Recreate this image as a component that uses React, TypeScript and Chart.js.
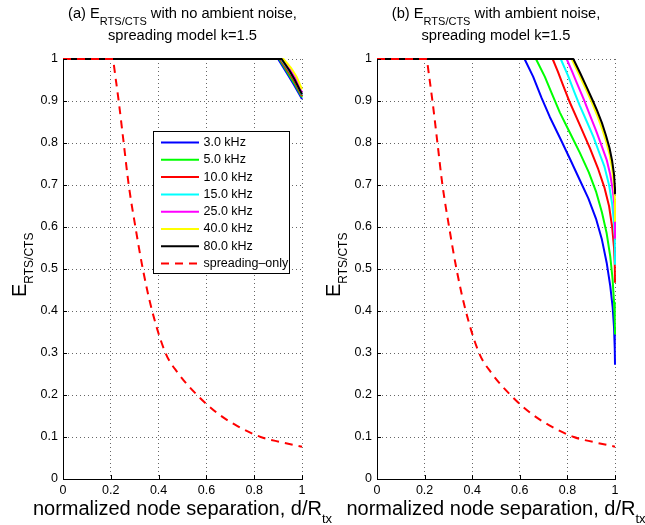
import React, { useEffect, useRef } from 'react';
import { Chart, registerables } from 'chart.js';

Chart.register(...registerables);

const FONT = '"Liberation Sans", Arial, Helvetica, sans-serif';

// ---------- tick labels ----------
const X_TICKS = [0, 0.2, 0.4, 0.6, 0.8, 1];
const Y_TICKS = [0, 0.1, 0.2, 0.3, 0.4, 0.5, 0.6, 0.7, 0.8, 0.9, 1];

// ---------- series names / colours ----------
const FREQ_LABELS = ['3.0 kHz', '5.0 kHz', '10.0 kHz', '15.0 kHz', '25.0 kHz', '40.0 kHz', '80.0 kHz'];
const SPREAD_LABEL = 'spreading\u2013only';
const FREQ_COLORS = ['#0000ff', '#00ff00', '#ff0000', '#00ffff', '#ff00ff', '#ffff00', '#000000'];
const SPREAD_COLOR = '#ff0000';

type Pt = [number, number];

// ---------- spreading-only curve (both panels) ----------
const SPREADING_ONLY: Pt[] = [
  [0, 1], [0.21, 1], [0.212, 0.99], [0.233, 0.9], [0.254, 0.8], [0.275, 0.7], [0.303, 0.6], [0.334, 0.5],
  [0.373, 0.4], [0.429, 0.3], [0.48, 0.253], [0.561, 0.2], [0.65, 0.155], [0.73, 0.126],
  [0.827, 0.1], [0.91, 0.088], [1, 0.077],
];

// ---------- panel (a): no ambient noise ----------
const A_3K: Pt[] = [[0, 1], [0.9, 1], [0.935, 0.968], [0.965, 0.94], [1, 0.905]];
const A_5K: Pt[] = [[0, 1], [0.905, 1], [0.94, 0.968], [0.968, 0.942], [1, 0.909]];
const A_10K: Pt[] = [[0, 1], [0.908, 1], [0.943, 0.97], [0.97, 0.945], [1, 0.912]];
const A_15K: Pt[] = [[0, 1], [0.912, 1], [0.946, 0.972], [0.972, 0.948], [1, 0.915]];
const A_25K: Pt[] = [[0, 1], [0.916, 1], [0.95, 0.975], [0.975, 0.952], [1, 0.92]];
const A_40K: Pt[] = [[0, 1], [0.922, 1], [0.955, 0.978], [0.978, 0.957], [1, 0.928]];
const A_80K: Pt[] = [[0, 1], [0.915, 1], [0.948, 0.972], [0.972, 0.948], [1, 0.916]];

// ---------- panel (b): with ambient noise ----------
const B_3K: Pt[] = [
  [0, 1], [0.62, 1], [0.656, 0.958], [0.691, 0.908], [0.726, 0.862], [0.768, 0.813], [0.81, 0.763],
  [0.852, 0.712], [0.888, 0.668], [0.92, 0.62], [0.945, 0.57], [0.965, 0.515], [0.98, 0.46],
  [0.99, 0.41], [0.996, 0.36], [0.999, 0.31], [1, 0.272],
];
const B_5K: Pt[] = [
  [0, 1], [0.668, 1], [0.705, 0.958], [0.733, 0.92], [0.768, 0.873], [0.81, 0.825], [0.852, 0.777],
  [0.89, 0.73], [0.92, 0.685], [0.945, 0.635], [0.965, 0.585], [0.98, 0.53], [0.99, 0.475],
  [0.996, 0.42], [0.999, 0.38], [1, 0.344],
];
const B_10K: Pt[] = [
  [0, 1], [0.738, 1], [0.76, 0.97], [0.782, 0.937], [0.81, 0.897], [0.852, 0.843], [0.895, 0.787],
  [0.93, 0.737], [0.955, 0.695], [0.975, 0.65], [0.988, 0.6], [0.996, 0.55], [0.999, 0.51], [1, 0.467],
];
const B_15K: Pt[] = [
  [0, 1], [0.772, 1], [0.803, 0.96], [0.83, 0.92], [0.852, 0.889], [0.88, 0.853], [0.909, 0.815],
  [0.935, 0.775], [0.955, 0.745], [0.975, 0.7], [0.988, 0.655], [0.996, 0.61], [0.999, 0.575], [1, 0.51],
];
const B_25K: Pt[] = [
  [0, 1], [0.797, 1], [0.82, 0.97], [0.839, 0.944], [0.868, 0.905], [0.895, 0.866], [0.92, 0.83],
  [0.944, 0.793], [0.965, 0.76], [0.98, 0.725], [0.99, 0.69], [0.997, 0.655], [1, 0.62], [1, 0.574],
];
const B_40K: Pt[] = [
  [0, 1], [0.818, 1], [0.85, 0.962], [0.878, 0.928], [0.903, 0.896], [0.925, 0.866], [0.945, 0.835],
  [0.962, 0.805], [0.977, 0.773], [0.988, 0.74], [0.996, 0.7], [1, 0.66], [1, 0.614],
];
const B_80K: Pt[] = [
  [0, 1], [0.825, 1], [0.855, 0.965], [0.881, 0.933], [0.905, 0.903], [0.925, 0.877], [0.945, 0.848],
  [0.962, 0.818], [0.977, 0.788], [0.988, 0.757], [0.996, 0.725], [1, 0.69], [1, 0.68],
];

const SERIES_A = [A_3K, A_5K, A_10K, A_15K, A_25K, A_40K, A_80K];
const SERIES_B = [B_3K, B_5K, B_10K, B_15K, B_25K, B_40K, B_80K];

// ---------- layout ----------
const W = 645;
const H = 525;
const PLOT_TOP = 59;
const PLOT_BOTTOM = 479;
const AREA = {
  a: { left: 63, right: 302 },
  b: { left: 377, right: 615 },
};
const TITLES = {
  a: ['(a) E', 'RTS/CTS', ' with no ambient noise,'],
  b: ['(b) E', 'RTS/CTS', ' with ambient noise,'],
};
const TITLE_LINE2 = 'spreading model k=1.5';
const X_TITLE = ['normalized node separation, d/R', 'tx'];
const Y_TITLE = ['E', 'RTS/CTS'];

type Run = { t: string; size: number; dy: number };

function fontOf(size: number) {
  return `${size}px ${FONT}`;
}
function runsWidth(ctx: CanvasRenderingContext2D, runs: Run[]) {
  let w = 0;
  for (const r of runs) {
    ctx.font = fontOf(r.size);
    w += ctx.measureText(r.t).width;
  }
  return w;
}
function drawRuns(ctx: CanvasRenderingContext2D, runs: Run[], x: number, y: number, center: boolean) {
  let cx = center ? x - runsWidth(ctx, runs) / 2 : x;
  ctx.textAlign = 'left';
  ctx.textBaseline = 'alphabetic';
  for (const r of runs) {
    ctx.font = fontOf(r.size);
    ctx.fillText(r.t, cx, y + r.dy);
    cx += ctx.measureText(r.t).width;
  }
}

function decorPlugin(panel: 'a' | 'b') {
  return {
    id: 'decor_' + panel,
    afterDraw(chart: any) {
      const ctx: CanvasRenderingContext2D = chart.ctx;
      const { left, right, bottom } = chart.chartArea;
      const xs = chart.scales.x;
      const ys = chart.scales.y;
      ctx.save();
      ctx.fillStyle = '#000';
      ctx.strokeStyle = '#000';
      ctx.lineWidth = 1;
      // inward tick marks
      ctx.beginPath();
      for (const v of X_TICKS) {
        const px = Math.round(xs.getPixelForValue(v)) + 0.5;
        ctx.moveTo(px, bottom);
        ctx.lineTo(px, bottom - 4);
      }
      for (const v of Y_TICKS) {
        const py = Math.round(ys.getPixelForValue(v)) + 0.5;
        ctx.moveTo(left, py);
        ctx.lineTo(left + 4, py);
      }
      ctx.stroke();

      const cx = (left + right) / 2;
      // title
      const t = TITLES[panel];
      drawRuns(ctx, [
        { t: t[0], size: 14.7, dy: 0 },
        { t: t[1], size: 11, dy: 7 },
        { t: t[2], size: 14.7, dy: 0 },
      ], cx, 17.5, true);
      drawRuns(ctx, [{ t: TITLE_LINE2, size: 14.7, dy: 0 }], cx, 39.5, true);

      // x axis title
      drawRuns(ctx, [
        { t: X_TITLE[0], size: 20, dy: 0 },
        { t: X_TITLE[1], size: 13, dy: 8 },
      ], cx, 515, true);

      // y axis title (rotated)
      ctx.save();
      ctx.translate(left - 37, 297);
      ctx.rotate(-Math.PI / 2);
      drawRuns(ctx, [
        { t: Y_TITLE[0], size: 20, dy: 0 },
        { t: Y_TITLE[1], size: 12, dy: 7 },
      ], 0, 0, false);
      ctx.restore();

      // legend (panel a only)
      if (panel === 'a') {
        const bx = 153.5, by = 131.5, bw = 136, bh = 142;
        ctx.fillStyle = '#fff';
        ctx.fillRect(bx, by, bw, bh);
        ctx.strokeStyle = '#000';
        ctx.lineWidth = 1;
        ctx.setLineDash([]);
        ctx.strokeRect(bx, by, bw, bh);
        const dsets = chart.data.datasets;
        ctx.font = fontOf(12.5);
        ctx.textBaseline = 'middle';
        ctx.textAlign = 'left';
        dsets.forEach((d: any, i: number) => {
          const y = 142.5 + i * 17.3;
          ctx.save();
          ctx.strokeStyle = d.borderColor;
          ctx.lineWidth = 2;
          ctx.setLineDash(d.borderDash || []);
          ctx.beginPath();
          ctx.moveTo(161, y);
          ctx.lineTo(199, y);
          ctx.stroke();
          ctx.restore();
          ctx.fillStyle = '#000';
          ctx.fillText(d.label, 203.5, y);
        });
      }
      ctx.restore();
    },
  };
}

function makeConfig(panel: 'a' | 'b'): any {
  const series = panel === 'a' ? SERIES_A : SERIES_B;
  const area = AREA[panel];
  const datasets: any[] = series.map((pts, i) => ({
    label: FREQ_LABELS[i],
    data: pts.map(([x, y]) => ({ x, y })),
    borderColor: FREQ_COLORS[i],
    backgroundColor: FREQ_COLORS[i],
    borderWidth: 2,
    pointRadius: 0,
    tension: 0,
    fill: false,
    clip: false,
    borderJoinStyle: 'round',
    order: 7 - i,
  }));
  datasets.push({
    label: SPREAD_LABEL,
    data: SPREADING_ONLY.map(([x, y]) => ({ x, y })),
    borderColor: SPREAD_COLOR,
    backgroundColor: SPREAD_COLOR,
    borderWidth: 2,
    borderDash: [8, 6],
    pointRadius: 0,
    cubicInterpolationMode: 'monotone',
    fill: false,
    clip: false,
    order: 0,
  });

  const gridCommon = {
    color: '#666',
    lineWidth: 1,
    drawTicks: false,
    borderDash: [1, 3],
  };
  const borderCommon = { display: true, color: '#000', width: 1, dash: [1, 3] };
  const tickFont = { family: FONT, size: 12.5 };

  return {
    type: 'line',
    data: { datasets },
    options: {
      animation: false,
      responsive: false,
      maintainAspectRatio: false,
      events: [],
      layout: {
        autoPadding: false,
        padding: { left: 0, top: PLOT_TOP, right: W - area.right, bottom: 0 },
      },
      plugins: {
        legend: { display: false },
        title: { display: false },
        tooltip: { enabled: false },
      },
      scales: {
        x: {
          type: 'linear',
          min: 0,
          max: 1,
          grid: gridCommon,
          border: borderCommon,
          afterBuildTicks: (s: any) => {
            s.ticks = X_TICKS.map((value) => ({ value }));
          },
          afterFit: (s: any) => {
            s.height = H - PLOT_BOTTOM;
          },
          ticks: {
            color: '#000',
            font: tickFont,
            padding: 4,
            maxRotation: 0,
            autoSkip: false,
            callback: (v: number) => String(v),
          },
        },
        y: {
          type: 'linear',
          min: 0,
          max: 1,
          grid: gridCommon,
          border: borderCommon,
          afterBuildTicks: (s: any) => {
            s.ticks = Y_TICKS.map((value) => ({ value }));
          },
          afterFit: (s: any) => {
            s.width = area.left;
          },
          ticks: {
            color: '#000',
            font: tickFont,
            padding: 5,
            autoSkip: false,
            callback: (v: number) => String(v),
          },
        },
      },
    },
    plugins: [decorPlugin(panel)],
  };
}

export default function App() {
  const refA = useRef<HTMLCanvasElement>(null);
  const refB = useRef<HTMLCanvasElement>(null);
  useEffect(() => {
    const a = new Chart(refA.current as HTMLCanvasElement, makeConfig('a'));
    const b = new Chart(refB.current as HTMLCanvasElement, makeConfig('b'));
    return () => {
      a.destroy();
      b.destroy();
    };
  }, []);
  const cs: React.CSSProperties = { position: 'absolute', left: 0, top: 0, width: W, height: H };
  return (
    <div style={{ position: 'fixed', left: 0, top: 0, width: W, height: H, background: '#fff' }}>
      <canvas ref={refA} width={W} height={H} style={cs} />
      <canvas ref={refB} width={W} height={H} style={cs} />
    </div>
  );
}
